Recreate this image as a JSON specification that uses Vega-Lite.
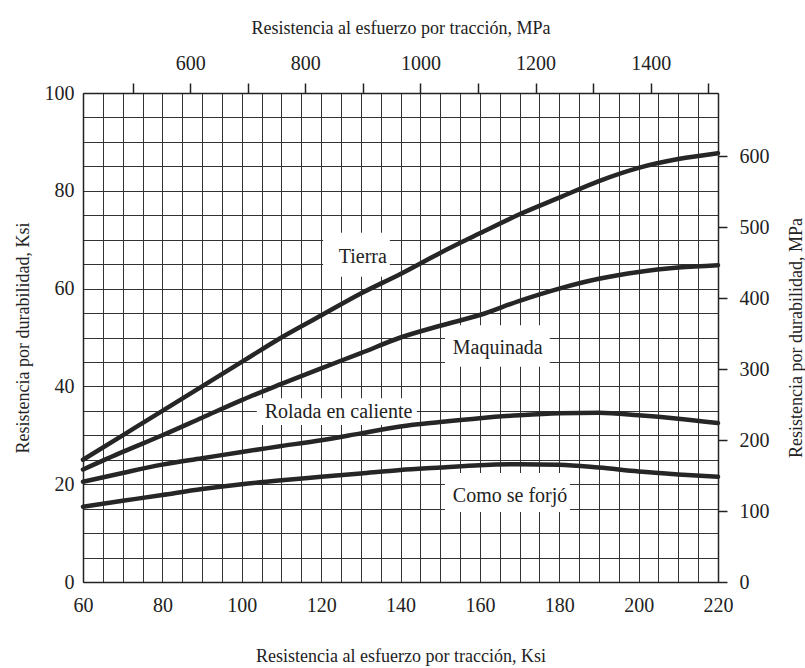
{
  "$schema": "https://vega.github.io/schema/vega-lite/v6.json",
  "autosize": {"type": "none"},
  "width": 635,
  "height": 489,
  "padding": {"left": 83, "top": 93, "right": 87, "bottom": 86},
  "background": "white",
  "config": {
    "view": {"stroke": null},
    "font": "Liberation Serif, serif",
    "text": {"font": "Liberation Serif, serif"},
    "axis": {
      "labelFont": "Liberation Serif, serif",
      "titleFont": "Liberation Serif, serif",
      "labelFontSize": 20,
      "titleFontSize": 18,
      "titleFontWeight": "normal",
      "labelColor": "#222",
      "titleColor": "#222",
      "domainColor": "#222",
      "domainWidth": 1.5,
      "tickColor": "#222",
      "tickWidth": 1.5,
      "gridColor": "#333",
      "gridWidth": 1,
      "gridOpacity": 1
    }
  },
  "datasets": {
    "curves": [
      {"curve": "Tierra", "x": 60, "y": 25},
      {"curve": "Tierra", "x": 70, "y": 30},
      {"curve": "Tierra", "x": 80, "y": 35},
      {"curve": "Tierra", "x": 90, "y": 40},
      {"curve": "Tierra", "x": 100, "y": 45},
      {"curve": "Tierra", "x": 110, "y": 50},
      {"curve": "Tierra", "x": 120, "y": 54.5},
      {"curve": "Tierra", "x": 130, "y": 59},
      {"curve": "Tierra", "x": 140, "y": 63},
      {"curve": "Tierra", "x": 150, "y": 67.3},
      {"curve": "Tierra", "x": 160, "y": 71.3},
      {"curve": "Tierra", "x": 170, "y": 75.2},
      {"curve": "Tierra", "x": 180, "y": 78.6},
      {"curve": "Tierra", "x": 190, "y": 82},
      {"curve": "Tierra", "x": 200, "y": 84.7},
      {"curve": "Tierra", "x": 210, "y": 86.5},
      {"curve": "Tierra", "x": 220, "y": 87.7},
      {"curve": "Maquinada", "x": 60, "y": 23},
      {"curve": "Maquinada", "x": 70, "y": 26.6},
      {"curve": "Maquinada", "x": 80, "y": 30},
      {"curve": "Maquinada", "x": 90, "y": 33.6},
      {"curve": "Maquinada", "x": 100, "y": 37.2},
      {"curve": "Maquinada", "x": 110, "y": 40.5},
      {"curve": "Maquinada", "x": 120, "y": 43.7},
      {"curve": "Maquinada", "x": 130, "y": 46.8},
      {"curve": "Maquinada", "x": 140, "y": 50},
      {"curve": "Maquinada", "x": 150, "y": 52.4},
      {"curve": "Maquinada", "x": 160, "y": 54.6},
      {"curve": "Maquinada", "x": 170, "y": 57.5},
      {"curve": "Maquinada", "x": 180, "y": 60},
      {"curve": "Maquinada", "x": 190, "y": 62},
      {"curve": "Maquinada", "x": 200, "y": 63.4},
      {"curve": "Maquinada", "x": 210, "y": 64.3},
      {"curve": "Maquinada", "x": 220, "y": 64.8},
      {"curve": "Rolada en caliente", "x": 60, "y": 20.5},
      {"curve": "Rolada en caliente", "x": 70, "y": 22.3},
      {"curve": "Rolada en caliente", "x": 80, "y": 24},
      {"curve": "Rolada en caliente", "x": 90, "y": 25.3},
      {"curve": "Rolada en caliente", "x": 100, "y": 26.6},
      {"curve": "Rolada en caliente", "x": 110, "y": 27.8},
      {"curve": "Rolada en caliente", "x": 120, "y": 29},
      {"curve": "Rolada en caliente", "x": 130, "y": 30.4},
      {"curve": "Rolada en caliente", "x": 140, "y": 31.8},
      {"curve": "Rolada en caliente", "x": 150, "y": 32.7},
      {"curve": "Rolada en caliente", "x": 160, "y": 33.5},
      {"curve": "Rolada en caliente", "x": 170, "y": 34.1},
      {"curve": "Rolada en caliente", "x": 180, "y": 34.5},
      {"curve": "Rolada en caliente", "x": 190, "y": 34.6},
      {"curve": "Rolada en caliente", "x": 200, "y": 34.1},
      {"curve": "Rolada en caliente", "x": 210, "y": 33.4},
      {"curve": "Rolada en caliente", "x": 220, "y": 32.5},
      {"curve": "Como se forjó", "x": 60, "y": 15.4},
      {"curve": "Como se forjó", "x": 70, "y": 16.6},
      {"curve": "Como se forjó", "x": 80, "y": 17.8},
      {"curve": "Como se forjó", "x": 90, "y": 19},
      {"curve": "Como se forjó", "x": 100, "y": 20},
      {"curve": "Como se forjó", "x": 110, "y": 20.8},
      {"curve": "Como se forjó", "x": 120, "y": 21.5},
      {"curve": "Como se forjó", "x": 130, "y": 22.2},
      {"curve": "Como se forjó", "x": 140, "y": 22.9},
      {"curve": "Como se forjó", "x": 150, "y": 23.4},
      {"curve": "Como se forjó", "x": 160, "y": 23.9},
      {"curve": "Como se forjó", "x": 170, "y": 24.1},
      {"curve": "Como se forjó", "x": 180, "y": 24},
      {"curve": "Como se forjó", "x": 190, "y": 23.4},
      {"curve": "Como se forjó", "x": 200, "y": 22.6},
      {"curve": "Como se forjó", "x": 210, "y": 22},
      {"curve": "Como se forjó", "x": 220, "y": 21.5}
    ],
    "labels": [
      {"label": "Tierra", "x": 130.5, "y": 66.5, "bx1": 120.5, "bx2": 137.3, "by1": 62.4, "by2": 71.4},
      {"label": "Maquinada", "x": 164.5, "y": 47.9, "bx1": 151.2, "bx2": 177.6, "by1": 44, "by2": 52.5},
      {"label": "Rolada en caliente", "x": 124.4, "y": 34.8, "bx1": 103.8, "bx2": 144.1, "by1": 32.1, "by2": 37.6},
      {"label": "Como se forjó", "x": 167.6, "y": 17.6, "bx1": 151.2, "bx2": 182.7, "by1": 14.3, "by2": 22.3}
    ],
    "mpa": [
      {"mpa_x": 413.7, "mpa_y": 0},
      {"mpa_x": 1516.9, "mpa_y": 689.5}
    ]
  },
  "layer": [
    {
      "layer": [
        {
          "data": {"name": "labels"},
          "mark": {"type": "rect", "fill": "white", "stroke": null},
          "encoding": {
            "x": {"field": "bx1", "type": "quantitative", "scale": {"domain": [60, 220], "nice": false, "zero": false}},
            "x2": {"field": "bx2"},
            "y": {"field": "by1", "type": "quantitative", "scale": {"domain": [0, 100], "nice": false, "zero": false}},
            "y2": {"field": "by2"}
          }
        },
        {
          "data": {"name": "curves"},
          "mark": {"type": "line", "color": "#262626", "strokeWidth": 4.5, "interpolate": "monotone", "strokeCap": "round"},
          "encoding": {
            "x": {"field": "x", "type": "quantitative", "scale": {"domain": [60, 220], "nice": false, "zero": false}},
            "y": {"field": "y", "type": "quantitative", "scale": {"domain": [0, 100], "nice": false, "zero": false}},
            "detail": {"field": "curve"}
          }
        },
        {
          "data": {"name": "labels"},
          "mark": {"type": "text", "font": "Liberation Serif, serif", "fontSize": 20, "color": "#222", "align": "center", "baseline": "middle"},
          "encoding": {
            "x": {"field": "x", "type": "quantitative", "scale": {"domain": [60, 220], "nice": false, "zero": false}},
            "y": {"field": "y", "type": "quantitative", "scale": {"domain": [0, 100], "nice": false, "zero": false}},
            "text": {"field": "label"}
          }
        }
      ],
      "encoding": {
        "x": {
          "type": "quantitative",
          "axis": {
            "orient": "bottom",
            "title": "Resistencia al esfuerzo por tracción, Ksi",
            "values": [60,65,70,75,80,85,90,95,100,105,110,115,120,125,130,135,140,145,150,155,160,165,170,175,180,185,190,195,200,205,210,215,220],
            "labelExpr": "datum.value % 20 == 0 ? datum.label : ''",
            "grid": true,
            "ticks": false,
            "labelPadding": 13,
            "titlePadding": 32,
            "labelFlush": false
          }
        },
        "y": {
          "type": "quantitative",
          "axis": {
            "orient": "left",
            "title": "Resistencia por durabilidad, Ksi",
            "values": [0,5,10,15,20,25,30,35,40,45,50,55,60,65,70,75,80,85,90,95,100],
            "labelExpr": "datum.value % 20 == 0 ? datum.label : ''",
            "grid": true,
            "ticks": false,
            "labelPadding": 9,
            "titlePadding": 12,
            "labelFlush": false
          }
        }
      }
    },
    {
      "data": {"name": "mpa"},
      "mark": {"type": "point", "opacity": 0},
      "encoding": {
        "x": {
          "field": "mpa_x", "type": "quantitative",
          "scale": {"domain": [413.7, 1516.9], "nice": false, "zero": false},
          "axis": {
            "orient": "top",
            "title": "Resistencia al esfuerzo por tracción, MPa",
            "values": [500,600,700,800,900,1000,1100,1200,1300,1400,1500],
            "labelExpr": "datum.value % 200 == 0 ? datum.label : ''",
            "format": "d",
            "grid": false,
            "tickSize": 10,
            "labelPadding": 10,
            "titlePadding": 16,
            "labelFlush": false
          }
        },
        "y": {
          "field": "mpa_y", "type": "quantitative",
          "scale": {"domain": [0, 689.5], "nice": false, "zero": false},
          "axis": {
            "orient": "right",
            "title": "Resistencia por durabilidad, MPa",
            "titleAngle": -90,
            "values": [0,100,200,300,400,500,600],
            "grid": false,
            "tickSize": 9,
            "labelPadding": 12,
            "titlePadding": 36,
            "labelFlush": false
          }
        }
      }
    }
  ],
  "resolve": {"scale": {"x": "independent", "y": "independent"}}
}
